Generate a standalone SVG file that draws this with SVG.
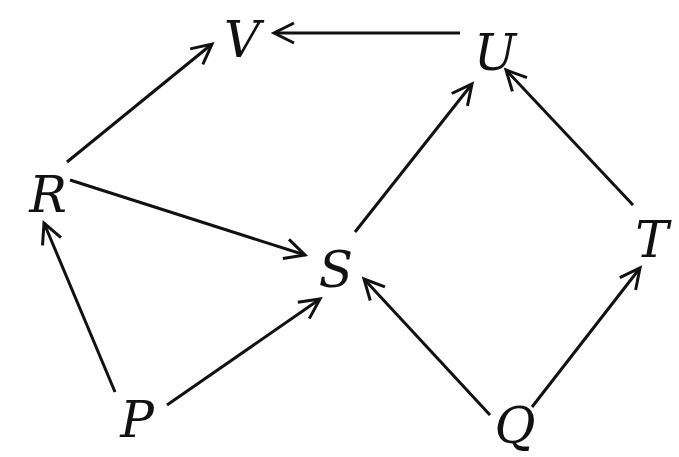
<svg xmlns="http://www.w3.org/2000/svg" width="679" height="457" viewBox="0 0 679 457">
<style>
.e{stroke:#111;stroke-width:3;fill:none;marker-end:url(#ah)}
</style>
<defs>
<marker id="ah" markerUnits="userSpaceOnUse" viewBox="-22 -12 26 24" refX="0" refY="0" markerWidth="26" markerHeight="24" orient="auto">
<path d="M -20 -10 L 0 0 L -20 10" fill="none" stroke="#111" stroke-width="3" stroke-linejoin="miter"/>
</marker>
</defs>
<rect width="679" height="457" fill="#fff"/>
<g id="connectors">
<line class="e" x1="460" y1="33" x2="274" y2="33"/>
<line class="e" x1="67" y1="162" x2="212" y2="44"/>
<line class="e" x1="70" y1="180" x2="305" y2="255"/>
<line class="e" x1="355" y1="232" x2="472" y2="84"/>
<line class="e" x1="633" y1="205" x2="506" y2="70"/>
<line class="e" x1="115" y1="392" x2="44" y2="223"/>
<line class="e" x1="167" y1="405" x2="320" y2="299"/>
<line class="e" x1="490" y1="415" x2="364" y2="279"/>
<line class="e" x1="532" y1="407" x2="640" y2="268"/>
</g>
<g font-family="'DejaVu Serif', serif" font-style="italic" font-size="50" fill="#111" text-anchor="middle">
<g id="V"><text x="242" y="57">V</text></g>
<g id="U"><text x="495" y="70">U</text></g>
<g id="R"><text x="48" y="212">R</text></g>
<g id="S"><text x="336" y="287">S</text></g>
<g id="T"><text x="652" y="257">T</text></g>
<g id="P"><text x="137" y="437">P</text></g>
<g id="Q"><text x="515" y="443">Q</text></g>
</g>
</svg>
